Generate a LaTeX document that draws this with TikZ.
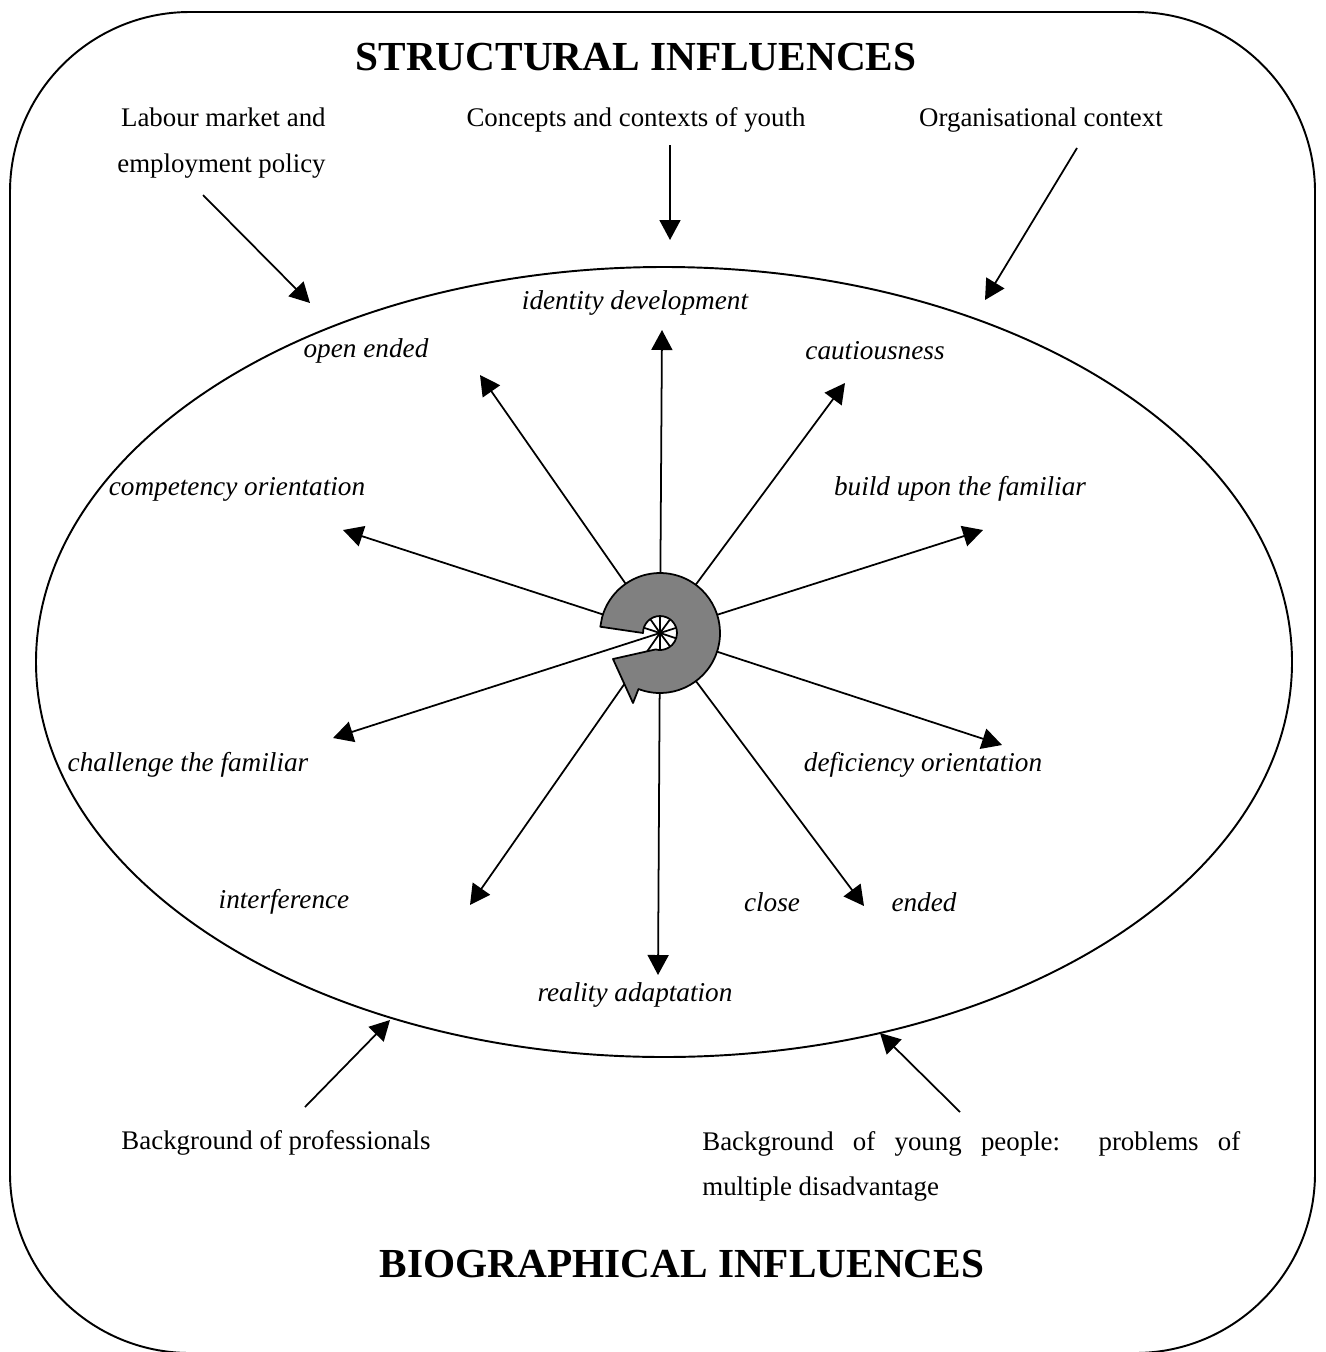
\documentclass[tikz,border=0pt]{standalone}
\usepackage{fontspec}
\setmainfont{Liberation Serif}
\usetikzlibrary{arrows.meta}

\begin{document}
\begin{tikzpicture}[x=0.02cm,y=-0.02cm,
  arr/.style={-{Triangle[length=0.4cm,width=0.42cm]}, line width=1pt},
  lbl/.style={font=\fontsize{15.5}{26}\selectfont\itshape, inner sep=0pt},
  txt/.style={font=\fontsize{15.3}{26}\selectfont, inner sep=0pt},
  ttl/.style={font=\fontsize{23.5}{28}\selectfont\bfseries, inner sep=0pt}]
\useasboundingbox (0,0) rectangle (1325,1352);
% frame and ellipse
\draw[line width=1.1pt, rounded corners=3.6cm] (10,12) rectangle (1315,1353);
\draw[line width=1.1pt] (664,662) ellipse [x radius=628, y radius=395];

% headings
\node[ttl] (struct) at (636,57) {STRUCTURAL INFLUENCES};
\node[ttl] (bio) at (682,1264) {BIOGRAPHICAL INFLUENCES};

% outside influences
\node[txt, align=right, anchor=east] (labour) at (326,143) {Labour market and\\employment policy};
\node[txt] (youth) at (636,120) {Concepts and contexts of youth};
\node[txt] (org) at (1041,120) {Organisational context};
\node[txt] (prof) at (276,1143) {Background of professionals};
\node[txt, anchor=north west, text width=10.76cm, align=justify] (young) at (702,1131)
  {\tolerance=10000 Background of young people:\ \ problems of \mbox{multiple} \mbox{disadvantage}};

\coordinate (labourA) at (203,195);  \coordinate (labourB) at (310,303);
\coordinate (youthA) at (670,145);   \coordinate (youthB) at (670,240);
\coordinate (orgA) at (1077,148);    \coordinate (orgB) at (985,300);
\coordinate (profA) at (305,1107);   \coordinate (profB) at (390,1020);
\coordinate (youngA) at (960,1112);  \coordinate (youngB) at (880,1033);
\foreach \s in {labour,youth,org,prof,young}
    \draw[arr] (\s A) -- (\s B);

% orientations
\foreach \x/\y/\t [count=\i] in {635/303/identity development, 366/351/open ended,
    875/351/cautiousness, 237/489/competency orientation, 960/489/build upon the familiar,
    188/765/challenge the familiar, 923/765/deficiency orientation, 284/902/interference,
    772/902/close, 924/902/ended, 635/995/reality adaptation}
    \node[lbl] (lbl\i) at (\x,\y) {\t};

% arrows from the hub
\coordinate (hub) at (660,633);
\foreach \x/\y [count=\i] in {662/330, 845/383, 983/530, 1002/745, 864/906,
    658/975, 470/905, 333/738, 343/530, 480/375}
{
    \coordinate (tip\i) at (\x,\y);
    \draw[arr] (hub) -- (tip\i);
}

% circular arrow
\begin{scope}[shift={(hub)}, x=0.02cm, y=0.02cm]
\draw[fill=gray, line width=1pt, line join=round]
    (165:60) -- (174:60) -- (180:17) arc[start angle=180, end angle=-105, radius=17]
    -- (-47,-26) -- (-27,-70) -- (-111:60) arc[start angle=-111, end angle=165, radius=60]
    -- cycle;
\end{scope}
\end{tikzpicture}
\end{document}
